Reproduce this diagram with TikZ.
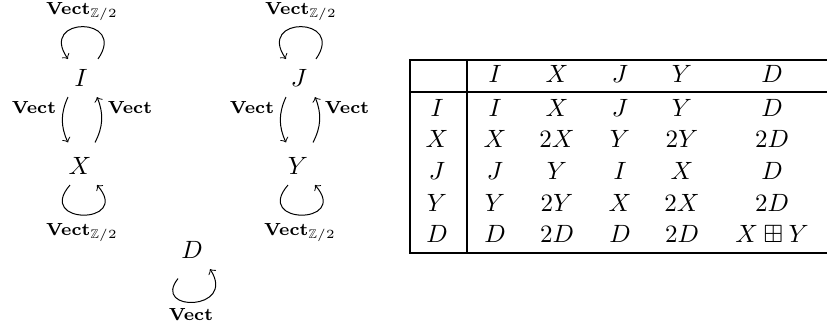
\documentclass[tikz,border=0pt]{standalone}
\usepackage{amssymb}

\begin{document}
\begin{tikzpicture}[x=0.4pt,y=0.4pt,>=to,
    obj/.style={inner sep=4pt},
    lbl/.style={anchor=base,inner sep=0pt},
    entry/.style={inner sep=0pt},
    rule/.style={line width=0.8pt}]

  \useasboundingbox (0,0) rectangle (827,-329);

  %--- objects ---
  \node[obj] (I) at (81,-78) {$I$};
  \node[obj] (X) at (80,-166) {$X$};
  \node[obj] (J) at (299,-78) {$J$};
  \node[obj] (Y) at (298,-166) {$Y$};
  \node[obj] (D) at (192,-250) {$D$};

  %--- I and X ---
  \draw[->] ([xshift=6.8pt]I.north) .. controls +(30,43) and +(-30,43) .. ([xshift=-5.2pt]I.north);
  \node[lbl] (vIt) at (82,-14) {$\scriptstyle\mathbf{Vect}_{\mathbb{Z}/2}$};
  \draw[->] ([xshift=-5.2pt]I.south) to[bend right=25] ([xshift=-4.8pt,yshift=1.8pt]X.north);
  \draw[->] ([xshift=6pt,yshift=1.8pt]X.north) to[bend right=25] ([xshift=6.4pt]I.south);
  \node[lbl] (vIl) at (34,-113) {$\scriptstyle\mathbf{Vect}$};
  \node[lbl] (vIr) at (130,-113) {$\scriptstyle\mathbf{Vect}$};
  \draw[->] ([xshift=-4pt]X.south) .. controls +(-35,-40) and +(35,-40) .. ([xshift=6.8pt]X.south);
  \node[lbl] (vXb) at (82,-235) {$\scriptstyle\mathbf{Vect}_{\mathbb{Z}/2}$};

  %--- J and Y ---
  \draw[->] ([xshift=6.8pt]J.north) .. controls +(30,43) and +(-30,43) .. ([xshift=-5.2pt]J.north);
  \node[lbl] (vJt) at (301,-14) {$\scriptstyle\mathbf{Vect}_{\mathbb{Z}/2}$};
  \draw[->] ([xshift=-5.2pt]J.south) to[bend right=25] ([xshift=-4.8pt,yshift=1.8pt]Y.north);
  \draw[->] ([xshift=6pt,yshift=1.8pt]Y.north) to[bend right=25] ([xshift=6.4pt]J.south);
  \node[lbl] (vJl) at (252,-113) {$\scriptstyle\mathbf{Vect}$};
  \node[lbl] (vJr) at (347,-113) {$\scriptstyle\mathbf{Vect}$};
  \draw[->] ([xshift=-4pt]Y.south) .. controls +(-35,-40) and +(35,-40) .. ([xshift=6.8pt]Y.south);
  \node[lbl] (vYb) at (300,-235) {$\scriptstyle\mathbf{Vect}_{\mathbb{Z}/2}$};

  %--- D ---
  \draw[->] ([xshift=-5.6pt,yshift=-3.8pt]D.south) .. controls +(-27,-34) and +(27,-42) .. ([xshift=7.2pt]D.south);
  \node[lbl] (vDb) at (191,-320) {$\scriptstyle\mathbf{Vect}$};

  %--- fusion table: rules ---
  \draw[rule] (827,-60) -- (410,-60) -- (410,-253) -- (827,-253);
  \draw[rule] (467,-60) -- (467,-253);
  \draw[rule] (410,-92) -- (827,-92);

  %--- fusion table: header ---
  \node[entry] (m-0-1) at (495,-74) {$I$};
  \node[entry] (m-0-2) at (557,-74) {$X$};
  \node[entry] (m-0-3) at (620,-74) {$J$};
  \node[entry] (m-0-4) at (682,-74) {$Y$};
  \node[entry] (m-0-5) at (772,-74) {$D$};

  %--- fusion table: rows ---
  \node[entry] (m-1-0) at (437,-107.5) {$I$};
  \node[entry] (m-1-1) at (495,-107.5) {$I$};
  \node[entry] (m-1-2) at (557,-107.5) {$X$};
  \node[entry] (m-1-3) at (620,-107.5) {$J$};
  \node[entry] (m-1-4) at (682,-107.5) {$Y$};
  \node[entry] (m-1-5) at (772,-107.5) {$D$};

  \node[entry] (m-2-0) at (437,-139) {$X$};
  \node[entry] (m-2-1) at (495,-139) {$X$};
  \node[entry] (m-2-2) at (557,-139) {$2X$};
  \node[entry] (m-2-3) at (620,-139) {$Y$};
  \node[entry] (m-2-4) at (682,-139) {$2Y$};
  \node[entry] (m-2-5) at (772,-139) {$2D$};

  \node[entry] (m-3-0) at (437,-171) {$J$};
  \node[entry] (m-3-1) at (495,-171) {$J$};
  \node[entry] (m-3-2) at (557,-171) {$Y$};
  \node[entry] (m-3-3) at (620,-171) {$I$};
  \node[entry] (m-3-4) at (682,-171) {$X$};
  \node[entry] (m-3-5) at (772,-171) {$D$};

  \node[entry] (m-4-0) at (437,-202.5) {$Y$};
  \node[entry] (m-4-1) at (495,-202.5) {$Y$};
  \node[entry] (m-4-2) at (557,-202.5) {$2Y$};
  \node[entry] (m-4-3) at (620,-202.5) {$X$};
  \node[entry] (m-4-4) at (682,-202.5) {$2X$};
  \node[entry] (m-4-5) at (772,-202.5) {$2D$};

  \node[entry] (m-5-0) at (437,-234) {$D$};
  \node[entry] (m-5-1) at (495,-234) {$D$};
  \node[entry] (m-5-2) at (557,-234) {$2D$};
  \node[entry] (m-5-3) at (620,-234) {$D$};
  \node[entry] (m-5-4) at (682,-234) {$2D$};
  \node[entry] (m-5-5) at (772,-234) {$X\boxplus Y$};

\end{tikzpicture}
\end{document}
